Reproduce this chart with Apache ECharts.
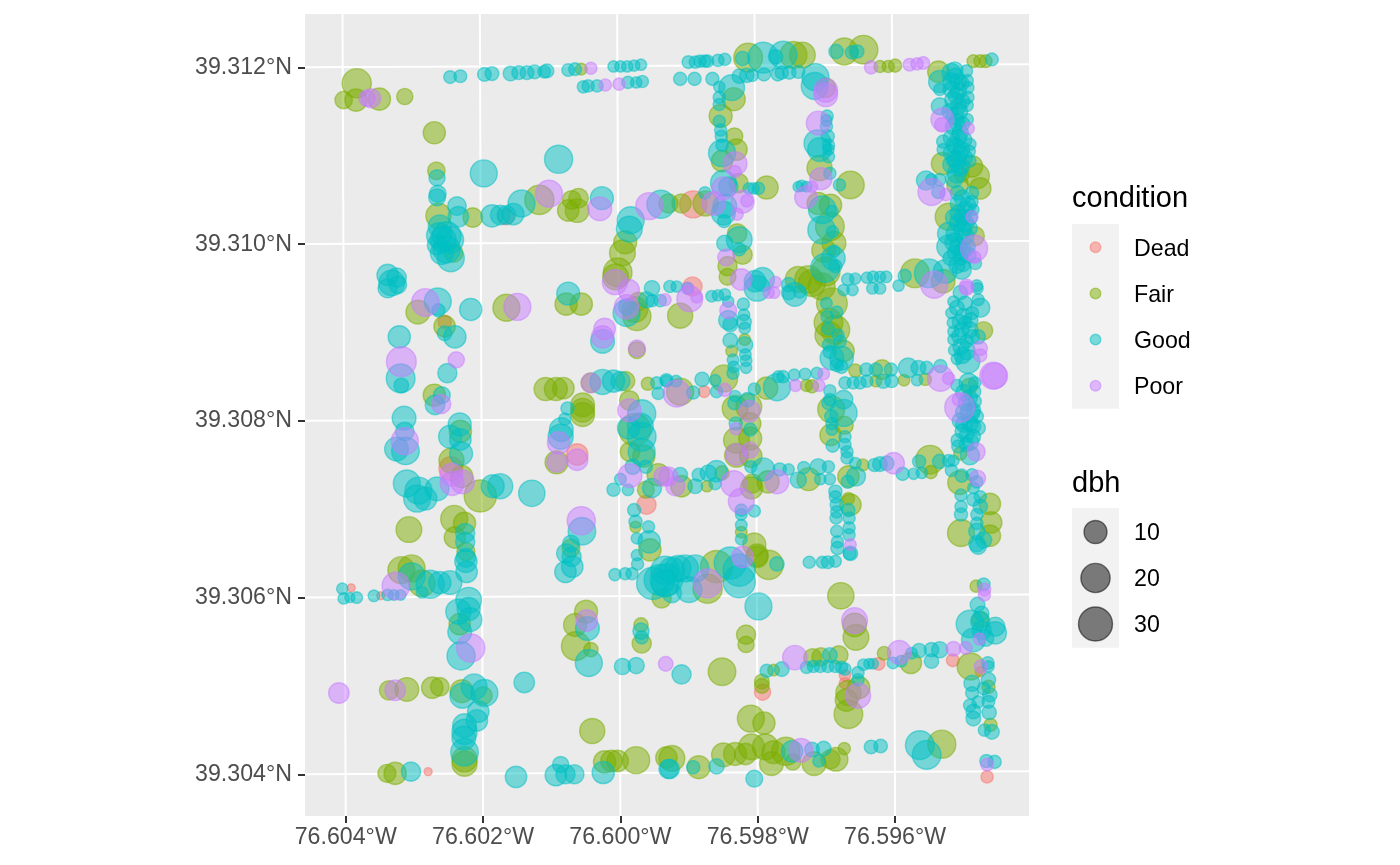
<!DOCTYPE html>
<html><head><meta charset="utf-8">
<style>html,body{margin:0;padding:0;background:#fff}#c{width:1400px;height:865px}</style>
<script src="https://cdn.jsdelivr.net/npm/echarts@6/dist/echarts.min.js"></script>
</head><body><div id="c"></div>
<script>
// Each tree: [thousandths of a degree east of 76.600W, thousandths of a degree north of 39.300N, dbh]
const conditions = ['Dead','Fair','Good','Poor'];
const sizeBreaks = [10,20,30];
const lonTicks = [-76.604,-76.602,-76.600,-76.598,-76.596];
const latTicks = [39.304,39.306,39.308,39.310,39.312];
const dead = [[-1.67,10.31,3],[-2.56,9.12,1.2],[-2.47,7.46,11],[-.63,7.62,8],[.38,7.05,5.6],[-3.92,6.11,0],[-3.49,6.02,0],[-2.80,4.03,0],[2.07,4.93,3],[3.27,5.12,.5],[3.27,5.03,.5],[3.76,5.25,1],[4.84,5.29,1],[5.24,5.16,.2],[5.34,3.97,.8],[1.06,10.45,16],[1.05,9.52,5.6],[1.22,8.33,.6]];
const fair = [[-3.84,11.82,20],[-4.03,11.63,4],[-3.85,11.63,9],[-3.51,11.64,9],[-3.14,11.67,3],[-2.71,11.26,9],[-2.68,10.83,4],[-2.65,10.32,13],[-2.15,10.30,6],[-1.18,10.50,20],[-.76,10.38,8],[-.63,10.38,11],[-.61,10.52,6],[-.71,10.50,5],[-.57,11.98,.6],[-2.43,9.90,5],[.07,10.02,10],[.03,9.90,14],[-.04,9.68,19],[-.07,9.63,14],
[-2.95,9.23,11],[-1.66,9.28,16],[-.79,9.32,9],[-.57,9.32,9],[.24,9.18,18],[.21,9.26,14],[.26,9.35,5],[-2.56,9.07,8],[-2.71,8.29,9],[-2.33,7.88,9],[-2.46,7.55,13],[-2.31,7.37,9],[-2.04,7.15,26],[-2.42,6.89,16],[-2.27,6.84,9],[-2.41,6.68,8],[-3.08,6.77,14],[-2.25,6.52,4.5],
[-1.09,8.36,10],[-.94,8.36,10],[-.83,8.37,8],[-.43,8.43,6],[.07,8.45,5.6],[.40,8.42,1.2],[.13,8.23,6],[-.55,8.18,11],[-.55,8.12,11],[-.55,8.07,11],[-.93,7.53,10],[.21,7.90,26],[.14,7.65,6],[.34,7.60,9],[.37,7.22,3.5],[.22,6.80,.5],[.43,6.54,9],[.55,7.39,9],[.24,8.80,3.5],[-.72,6.56,4.5],
[-3.19,6.31,16],[-3.04,6.33,16],[-2.89,6.16,15],[-2.34,5.70,8],[-.50,5.84,10],[-.66,5.69,10],[-.65,5.45,19],[-.43,5.41,1.8],[.30,5.69,1.8],[.31,5.48,5.6],[-3.37,4.95,5.6],[-3.11,4.96,11],[-2.74,4.98,8],[-2.63,4.99,5],[-2.31,4.94,10],[-2.00,4.89,4.5],[-2.27,4.17,13],[-2.27,4.12,13],[-3.40,4.01,4.5],[-3.28,4.01,9],[-.41,4.49,13],[-.23,4.14,9],[-.13,4.15,8],[-.04,4.15,8],[.23,4.16,16],[.67,4.19,8],[.60,5.99,5.6],[1.27,6.10,20],[1.40,6.35,26],[1.99,6.48,9],[2.16,6.37,20],[3.21,6.02,15],[3.41,5.69,11],[3.43,5.55,14],[1.83,5.58,5.6],[1.83,5.47,3],[1.48,5.16,17],
[.75,4.18,14],[1.14,4.08,10],[1.50,4.22,11],[1.67,4.23,10],[1.82,4.23,8],[1.91,4.31,14],[2.11,4.31,14],[2.20,4.12,11],[2.23,4.25,10],[2.41,4.26,18],[2.51,4.14,3],[2.82,4.12,11],[3.06,4.17,5.6],[3.14,4.17,11],[3.26,4.29,.8],[4.68,4.34,18],[1.90,4.63,16],[2.09,4.58,9],[2.06,5.05,2],[2.06,5.00,2],[2.23,5.18,.6],[2.80,5.32,4.5],[2.92,5.33,4.5],[3.18,5.35,5],[3.84,5.37,1.4],[4.23,5.26,8],[5.10,5.22,16],[5.24,5.75,3.5],[5.18,6.13,.8],[5.36,4.99,1.2],[5.39,4.56,1.2],[3.32,4.92,13],[3.47,4.98,9],[3.29,4.84,9],[3.32,4.68,19],
[1.86,12.11,19],[2.52,12.14,16],[2.65,12.14,14],[3.26,12.18,16],[3.54,12.20,19],[3.78,12.01,.8],[3.90,12.01,.8],[4.00,12.02,1.2],[5.14,12.07,1],[5.24,12.07,1],[5.32,12.07,1],[2.99,11.77,6],[1.65,11.64,10],[1.46,11.45,10],[1.66,11.22,3.5],[1.69,11.07,8],[1.48,10.94,8],[1.72,10.69,5.6],[2.13,10.64,10],[1.70,10.12,6],[1.78,9.88,5.6],[1.56,9.75,5.6],[1.56,9.63,3.5],[.70,10.46,5.6],[.89,10.46,5.6],[1.24,10.46,13],
[2.90,10.86,13],[3.35,10.67,17],[3.06,10.44,9],[2.88,10.46,9],[3.05,10.20,19],[3.11,10.01,11],[2.96,9.93,11],[2.99,9.69,19],[4.63,11.95,8],[4.69,10.91,9],[5.12,10.88,8],[5.19,10.77,13],[5.24,10.63,8],[4.91,10.67,8],[4.97,10.78,1.8],[4.78,10.31,16],[5.16,10.09,5.6],[4.29,9.67,19],[4.70,9.58,11],[2.59,9.60,14],[2.74,9.60,17],[2.93,9.52,16],
[.87,9.19,13],[1.81,8.92,.6],[1.62,8.79,.6],[1.51,8.48,16],[.87,8.33,16],[2.79,9.56,16],[3.08,9.33,23],[3.03,9.11,19],[3.13,9.03,19],[3.03,8.97,16],[3.25,8.79,8],[3.42,8.57,1.2],[3.81,8.58,6],[3.72,8.45,.6],[4.13,8.46,.6],[4.44,8.47,.8],[2.13,8.37,9],[2.71,8.40,.8],[2.79,8.39,1.2],[5.29,9.02,4.5],[5.08,8.39,3],[4.95,7.63,1.2],[4.51,7.56,19],[4.52,7.42,1.2],[4.94,7.30,11],[5.38,7.06,8],[5.40,6.85,8],[5.38,6.70,8],[4.96,6.73,16],
[3.07,8.13,16],[3.26,7.95,4.5],[3.06,7.84,8],[3.53,7.50,.8],[3.32,7.37,8],[3.32,7.12,.8],[3.35,7.05,8],[1.67,8.14,14],[1.87,8.16,14],[1.89,7.97,8],[1.69,7.78,14],[1.89,7.80,10],[1.69,7.61,11],[1.90,7.60,9],[2.74,7.34,10],[2.15,7.31,9],[1.92,7.29,5.6],[1.91,7.24,9],[1.76,6.74,.6],[1.95,6.60,10],[1.99,6.46,8],[.89,7.26,8],[1.48,7.41,1.8],[1.26,7.26,.5]];
const good = [[-2.48,11.89,1],[-2.33,11.90,1],[-1.98,11.92,1.5],[-1.87,11.93,1.5],[-1.60,11.93,2],[-1.48,11.94,1.5],[-1.36,11.94,1.5],[-1.25,11.95,1.5],[-1.11,11.95,1],[-1.07,11.96,1.5],[-.76,11.97,1],[-.66,11.98,1],[-.10,12.01,.5],[0,12.01,.5],[.10,12.01,.5],[.20,12.02,.5],[.30,12.03,.5],[-.54,11.78,.8],[-.47,11.79,.8],[-.34,11.79,.8],[.11,11.83,.8],[.23,11.83,.5],[.32,11.84,.8],
[-2.67,10.75,3],[-2.66,10.57,3.5],[-2.67,10.53,3.5],[-2.38,10.43,5],[-2.36,10.31,7],[-1.99,10.80,16],[-.90,10.96,18],[-.27,10.52,10],[-1.87,10.32,9],[-1.75,10.33,6],[-1.66,10.33,5],[-1.56,10.34,8],[-1.44,10.46,16],[.59,10.45,18],[-2.63,10.20,10],[-2.64,10.10,13],[-2.58,10.05,14],[-2.53,10.09,19],[-2.48,10.05,16],[-2.60,9.90,10],[-2.53,9.94,16],[-2.47,9.84,16],[-2.67,9.99,6],[.15,10.27,16],[.13,10.17,14],[-3.39,9.65,8],[-3.26,9.62,6],[-3.39,9.50,5.6],[-3.33,9.56,14],[-3.24,9.54,4],
[-2.66,9.35,16],[-2.65,9.25,1.2],[-2.18,9.26,9],[-.76,9.44,10],[.09,9.22,16],[.38,9.37,3],[.46,9.36,.8],[.58,9.36,.8],[.46,9.50,2.4],[-2.56,8.99,2],[-2.41,8.95,9],[-3.22,8.95,9],[-2.52,8.54,5.6],[-3.20,8.48,19],[-3.19,8.40,2],[-2.60,8.29,3.5],[-2.70,8.18,6],[-3.15,8.03,11],[-3.14,7.88,5],[-3.26,7.68,11],[-3.13,7.66,17],[-2.34,7.96,10],[-2.48,7.82,10],[-2.33,7.79,8],[-2.32,7.63,10],[-3.11,7.29,16],[-2.94,7.21,16],[-2.96,7.12,16],[-2.84,7.12,10],[-2.67,7.23,11],[-1.86,7.26,10],[-1.75,7.26,13],[-1.29,7.18,15],[-2.26,6.73,5.6],[-2.26,6.63,5.6],[-2.25,6.45,5.6],
[-.26,8.44,13],[-.10,8.45,9],[0,8.45,5.6],[.53,8.43,.8],[.67,8.46,1.2],[.55,8.31,.8],[.31,8.08,18],[-.77,8.14,1.2],[-.81,8.02,.8],[-.86,7.90,11],[-.87,7.82,13],[.12,7.92,9],[.29,7.94,14],[.31,7.82,19],[.31,7.65,16],[.18,7.48,2.4],[.37,7.48,1.2],[0,7.34,.6],[-.10,7.22,1.2],[.11,7.22,.6],[.20,6.99,1.2],[.22,6.86,1.2],[.41,6.80,.8],[.24,6.67,.5],[.42,6.63,9],[.46,7.24,5.6],[.24,6.48,.5],[-.26,8.90,11],[.09,9.29,3],[-.72,6.61,3.5],[-.79,6.50,5.6],[-.71,6.46,5.6],[-.56,6.75,17],
[-4.05,6.10,.5],[-4.03,5.99,.5],[-3.94,6.00,.2],[-3.84,6.00,.6],[-3.59,6.02,.6],[-3.39,6.03,.5],[-3.30,6.03,.3],[-3.20,6.03,.3],[-3.04,6.24,16],[-2.77,6.15,18],[-2.63,6.17,9],[-2.48,6.17,11],[-2.89,6.06,.6],[-2.25,6.41,9],[-2.24,6.29,8],[-2.21,5.97,14],[-2.21,5.87,10],[-2.36,5.84,13],[-2.19,5.75,11],[-2.34,5.61,11],[-2.32,5.34,18],[-.48,5.65,11],[-.46,5.26,16],[.30,5.62,3],[.31,5.55,1.2],[.03,5.22,3],[.23,5.23,3],[-.80,6.29,8],[-.70,6.35,8],[-.08,6.26,.8],[.07,6.27,.8],[.17,6.27,.8],[.25,6.38,.8],
[.47,6.16,26],[.57,6.20,23],[.67,6.20,26],[.65,6.31,18],[.75,6.31,14],[.84,6.33,14],[.94,6.33,16],[1.09,6.33,16],[.65,6.16,16],[.75,6.05,5.6],[1.00,6.09,14],[1.60,6.39,26],[1.73,6.31,26],[1.73,6.18,26],[2.28,6.38,1.8],[2.01,5.90,16],[2.75,6.40,.8],[2.94,6.40,.7],[3.02,6.40,1],[3.13,6.41,.7],[3.34,6.50,1],[.89,5.13,5.6],
[-1.40,5.04,7],[-2.13,4.99,14],[-2.30,4.89,13],[-1.98,4.92,16],[-2.07,4.71,8],[-2.09,4.61,8],[-2.27,4.55,11],[-2.27,4.48,13],[-2.28,4.41,11],[-2.27,4.25,17],[-3.05,4.03,5.6],[-1.52,3.97,8],[-.87,4.11,3],[-.94,3.99,8],[-.80,4.00,5.6],[-.67,4.00,5.6],[-.25,4.02,9],[.72,4.06,5.6],[.70,4.06,5.6],[1.06,4.08,1.2],[1.40,4.09,2.4],[1.95,3.95,3.5],[2.50,4.26,8],[2.79,4.28,2],[2.96,4.29,2],[2.89,4.15,.8],[3.65,4.31,1.4],[3.79,4.32,1.4],[4.36,4.33,19],[4.46,4.22,19],[5.33,4.15,1.2],[5.45,4.14,1.2],
[2.13,5.17,1.2],[2.35,5.19,2],[3.05,5.35,2],[2.71,5.21,.8],[2.81,5.22,.8],[2.91,5.22,.8],[3.02,5.22,.8],[3.13,5.22,.8],[3.22,5.21,.8],[3.27,5.19,.8],[3.46,5.15,.8],[3.46,5.07,.8],[3.54,5.24,.6],[3.62,5.25,.3],[3.68,5.25,.3],[3.97,5.26,.6],[4.09,5.28,.6],[4.24,5.37,.6],[4.35,5.40,1.8],[4.53,5.41,1.8],[4.65,5.41,3],[4.53,5.28,1.8],[5.09,5.70,17],[5.20,5.92,2],[5.26,5.82,2],[5.24,5.73,5.6],[5.46,5.67,5.6],[5.46,5.60,9],[5.14,5.52,11],[5.32,5.54,3],[5.26,5.63,5.6],[5.29,6.15,1],[5.35,5.26,1],[5.36,5.22,.5],[5.36,5.07,1.8],[5.12,5.03,3],[5.29,4.97,1],[5.38,4.90,1.8],[5.12,4.92,1],[5.09,4.78,1],[5.21,4.82,.8],[5.36,4.82,1],[5.14,4.71,2],[5.37,4.70,1.8],[5.14,4.63,2],[5.30,4.50,.8],[5.41,4.48,2],
[.99,12.06,1],[1.09,12.06,.8],[1.16,12.07,.8],[1.23,12.07,.8],[1.27,12.07,.8],[1.42,12.08,.8],[1.52,12.09,.8],[.87,11.87,1.2],[1.08,11.87,1.2],[1.34,11.87,1.2],[1.78,12.10,1.8],[2.08,12.11,23],[2.37,12.14,17],[2.26,12.12,1.8],[3.14,12.18,1.8],[3.37,12.17,1.2],[3.45,12.18,1.2],[5.41,12.09,1],[1.73,11.90,1.8],[1.84,11.91,1.8],[1.92,11.91,.8],[2.09,11.92,1.2],[2.29,11.92,1.2],[2.35,11.94,1.2],[2.46,11.94,1.2],[2.59,11.95,1.2],[2.84,11.89,16],[2.83,11.79,16],
[1.62,11.77,14],[1.44,11.78,.5],[1.44,11.66,.8],[1.44,11.58,.8],[1.44,11.39,.8],[1.46,11.29,.8],[1.47,11.22,.8],[1.48,11.03,16],[1.48,11.12,.8],[1.50,10.69,14],[1.57,10.65,5.6],[1.87,10.63,.5],[1.94,10.63,.5],[2.01,10.63,.8],[1.52,10.43,11],[1.50,10.35,11],[1.51,10.26,1.2],[1.73,10.05,14],[1.52,10.01,3],[1.73,9.94,1.2],[1.96,9.58,8],[2.07,9.60,11],[1.23,10.58,.8],
[3.01,11.45,.8],[3.00,11.40,.5],[3.00,11.33,.8],[3.02,11.22,1.2],[3.03,11.12,.8],[3.03,11.07,.5],[3.03,10.99,.8],[2.87,11.14,16],[2.90,11.07,11],[3.05,10.80,.8],[3.19,10.67,.8],[2.64,10.66,.5],[2.59,10.65,.3],[2.71,10.65,.3],[2.94,10.39,17],[3.08,10.37,.8],[2.93,10.16,17],[3.09,10.14,.8],[3.11,9.92,.8],[3.10,9.84,11],[2.98,9.73,19],[3.13,9.75,1.2],
[4.65,11.84,9],[4.65,11.75,.8],[4.65,11.56,3.5],[5.04,11.96,.8],[5.05,11.85,.8],[5.06,11.77,.8],[5.06,11.66,.8],[5.05,11.57,.8],[5.05,11.41,.8],[5.09,11.13,.8],[5.08,11.05,.8],[5.09,10.94,.8],[4.82,11.94,5],[4.87,11.97,3],[4.82,11.84,4],[4.92,11.84,3],[4.82,11.75,3],[4.92,11.73,3],[4.85,11.63,4],[4.92,11.56,3],[4.80,11.50,3],[4.87,11.45,4],[4.85,11.33,3],[4.95,11.26,3],[4.82,11.20,3],[4.70,11.16,1.2],[4.70,11.07,.8],[4.90,11.10,3],[4.82,11.03,3],[4.97,11.07,3],[4.90,10.95,4],[4.82,10.90,4],[4.97,10.88,3],[4.90,10.80,5.6],[4.45,10.72,5.6],[4.53,10.73,.6],[4.65,10.73,.8],[4.63,10.59,1.2],
[4.91,10.58,1.8],[5.12,10.58,1.2],[5.12,10.48,.8],[4.92,10.46,3],[5.02,10.39,3],[5.14,10.39,.5],[4.92,10.35,3],[5.02,10.24,4],[4.92,10.24,4],[4.78,10.12,9],[4.87,10.12,4],[5.02,10.09,4],[4.78,9.97,11],[4.92,9.97,4],[5.04,9.97,4],[4.80,9.84,1.8],[4.95,9.84,1.8],[4.99,9.77,1.8],[5.17,9.78,.8],[4.97,9.71,5.6],[4.49,9.67,19],[4.73,9.69,11],[4.14,9.64,1.2],[4.05,9.53,.5],[5.19,9.53,.6],[3.31,9.60,.8],[3.42,9.61,.5],[3.59,9.62,.5],[3.68,9.63,.6],[3.78,9.63,.5],[3.87,9.63,.6],[3.67,9.50,.6],[3.78,9.50,.6],[2.45,9.54,1.8],[.72,9.52,.8],[.82,9.52,.5],
[.98,9.50,.6],[1.33,9.41,.6],[1.42,9.42,.5],[1.52,9.43,.6],[1.57,9.35,.5],[1.57,9.14,5.6],[1.60,9.09,2],[1.60,8.91,2],[1.79,9.32,.8],[1.80,9.20,.6],[1.80,9.12,2],[1.81,9.05,.6],[1.81,8.86,3],[1.64,8.69,.6],[1.65,8.61,.6],[1.64,8.54,.8],[1.82,8.75,.6],[1.83,8.68,.6],[1.83,8.60,.5],[1.38,8.46,.5],[1.40,8.33,.8],[1.19,8.47,1.8],[1.06,8.32,1.2],[.81,8.45,.6],[.67,8.45,.6],[1.99,9.50,14],[2.45,9.45,1.8],[2.54,9.43,11],[2.61,9.46,.8],[3.00,9.33,.6],[3.01,9.18,.8],[3.15,9.23,.8],[3.03,9.04,.8],[3.17,8.97,.8],[3.03,8.86,.8],[3.20,8.90,.8],[3.08,8.71,11],[3.22,8.71,11],[3.05,8.78,1.2],[3.15,8.63,1.2],[3.22,8.61,1.2],[3.25,9.48,.5],[3.38,9.48,.5],
[3.58,8.58,1.2],[3.72,8.58,1.2],[3.94,8.58,1.2],[4.19,8.60,6],[4.34,8.60,2],[4.46,8.60,1.2],[4.66,8.62,1.2],[3.27,8.43,.8],[3.39,8.43,.8],[3.49,8.43,.8],[3.59,8.45,.8],[3.83,8.45,1.8],[3.95,8.45,1.2],[4.32,8.46,.5],[2.28,8.38,16],[1.95,8.36,.8],[2.30,8.50,.6],[2.37,8.50,.8],[2.53,8.52,.6],[2.69,8.53,.6],[2.86,8.54,.6],
[4.85,9.35,.5],[4.82,9.22,.5],[4.84,9.11,.5],[4.85,9.01,.5],[4.85,8.92,.5],[4.86,8.80,.5],[4.90,8.70,.5],[4.95,9.45,1.8],[5.20,9.50,.5],[5.21,9.37,.8],[5.24,9.28,5.6],[5.02,9.33,1.8],[5.00,9.18,3],[5.12,9.22,1.2],[4.97,9.03,2],[5.09,9.03,3],[5.04,8.90,1.2],[5.02,9.11,1.2],[5.21,8.95,1.8],[5.04,8.79,4],[5.06,8.67,11],[5.07,8.43,5.6],[5.16,8.43,.8],[4.90,8.40,.8],[5.16,8.33,.8],[5.04,8.20,3],[5.16,8.22,1.2],[4.95,8.00,3],[5.09,8.09,5.6],[5.19,8.05,1.2],[5.09,7.97,3],[5.21,7.92,1.8],[5.04,7.84,1.8],[5.14,7.82,1.8],[4.91,7.78,1.2],[4.92,7.71,1.2],[5.04,7.73,1.8],[5.09,7.61,5.6],
[3.70,7.50,1.2],[3.78,7.51,2],[3.88,7.52,1.8],[4.11,7.40,1.2],[4.27,7.40,.5],[4.39,7.41,.5],[4.35,7.54,1.2],[4.65,7.54,1.8],[4.78,7.55,.8],[4.85,7.55,.5],[4.82,7.44,.8],[4.97,7.38,1.2],[5.12,7.39,.8],[5.19,7.31,.8],[5.14,7.24,.6],[4.96,7.16,.8],[4.96,7.03,.8],[4.96,6.94,1.2],[5.24,7.14,.8],[5.14,7.11,1.2],[5.24,7.03,1.8],[5.19,6.94,.8],[5.19,6.84,.8],[5.19,6.75,3],[5.29,6.65,3],[5.19,6.61,3],[5.21,6.58,3],
[3.05,8.34,.8],[3.05,8.24,.8],[3.03,8.20,1.2],[3.25,8.24,5],[3.25,8.09,16],[3.07,8.05,1.2],[3.08,7.97,.8],[3.08,7.90,.5],[3.09,7.72,1.2],[3.27,7.82,.8],[3.27,7.73,.8],[3.30,7.65,.8],[3.30,7.58,.8],[3.42,7.52,.6],[3.43,7.37,5.6],[3.31,7.31,1.2],[3.13,7.20,1.2],[3.13,7.14,.8],[3.15,7.05,1.2],[3.15,6.97,.8],[3.14,6.90,.8],[3.32,6.99,1.2],[3.33,6.90,.8],[3.33,6.79,.8],[3.33,6.71,.8],[3.15,6.75,.8],[3.16,6.63,.8],[3.16,6.56,1.2],[3.35,6.50,1.8],
[1.66,8.20,1.2],[1.67,8.28,.5],[1.85,8.24,1.8],[1.68,7.97,1.2],[1.89,7.90,1.2],[1.90,7.48,.8],[2.08,7.45,10],[2.32,7.45,1.2],[2.45,7.45,.5],[2.67,7.47,.8],[2.88,7.48,3],[3.03,7.48,.8],[2.59,7.33,3],[2.91,7.34,.5],[3.05,7.34,.5],[1.95,6.98,.8],[1.76,6.99,.8],[1.76,6.94,.6],[1.76,6.82,.6],[1.76,6.66,.6],[.87,7.39,2],[1.09,7.26,2],[1.14,7.39,1.2],[1.28,7.41,3],[1.40,7.43,8],[1.38,7.29,.8],
[4.88,11.90,3],[4.97,11.82,2],[4.89,11.68,3],[4.98,11.62,2],[4.94,11.50,3],[4.90,11.38,3],[4.98,11.36,2],[4.92,11.20,3],[5.00,11.18,3],[4.86,11.12,3],[4.94,11.02,3],[5.02,10.98,2],[4.86,10.96,3],[4.94,10.86,3],[4.86,10.74,4],
[4.98,10.52,3],[5.06,10.44,3],[4.98,10.30,3],[5.08,10.30,3],[4.86,10.30,4],[4.98,10.16,4],[5.08,10.18,3],[4.86,10.02,5],[4.98,9.92,4],[4.88,9.90,3],[4.90,9.76,3],[5.06,9.88,3],
[4.90,9.28,2],[4.94,9.12,2],[4.93,8.96,2],[4.96,8.84,3],[5.10,9.14,2],[5.12,8.95,2],[4.98,8.74,3],[5.00,8.32,3],[5.08,8.26,3],[5.00,8.10,3],[5.14,8.12,2],[5.00,7.96,3],[5.14,7.94,2],[4.98,7.88,2],[5.10,7.76,3]];
const poor = [[-3.63,11.65,5.6],[-3.69,11.65,3],[-.43,11.99,.8],[-.22,11.80,.8],[-.02,11.81,.8],[-1.04,10.57,16],[-.30,10.40,11],[.42,10.43,16],[-.08,9.57,13],[.12,9.48,8],[-2.84,9.34,17],[-1.50,9.29,16],[.09,9.29,12],[.65,9.37,.8],[-3.19,8.67,21],[-2.39,8.69,3],[-2.61,8.19,5.6],[-3.14,7.77,16],[-2.46,7.39,10],[-2.45,7.29,11],[-2.30,7.31,11],[-.43,8.43,6],[.13,8.12,10],[-.90,7.75,9],[-.93,7.53,6],[-.63,7.56,8],[.14,7.38,11],[.63,7.37,6],[-.23,9.04,8],[-.26,8.95,9],[.24,8.82,3.5],[-.57,6.87,18],
[-3.27,6.13,17],[-.49,5.74,8],[-2.18,5.43,18],[.66,5.25,2],[1.27,6.16,19],[1.78,6.46,8],[3.41,5.74,14],[-4.10,4.92,7],[-3.28,4.95,7],[2.63,4.27,11],[5.34,4.11,1],[2.54,5.32,12],[4.06,5.38,11],[4.85,5.42,2],[5.03,5.43,1],[5.23,5.53,.8],[5.30,6.09,1],[5.30,6.03,.8],[5.25,5.22,1.2],[3.46,4.89,13],
[4.21,12.03,1],[4.32,12.04,.8],[4.41,12.05,1],[3.65,12.00,1.2],[2.99,11.74,11],[2.99,11.69,11],[4.69,11.41,10],[4.68,11.35,1.8],[5.07,11.31,.6],[1.67,10.91,11],[1.67,10.82,.8],[1.50,10.63,10],[1.78,10.48,10],[1.84,10.49,.8],[1.70,10.34,.8],[1.54,9.85,3.5],[1.76,9.60,8],[2.26,9.57,.5],[1.36,10.46,11],[2.88,11.37,11],[2.92,10.74,9],[2.79,10.65,.5],[2.70,10.53,9],[5.12,10.31,.8],[5.15,9.95,16],[5.16,9.85,.8],[4.53,10.59,16],[4.74,10.56,.8],[4.57,9.54,16],[5.04,9.52,2],[.98,9.50,.8],
[1.01,9.38,14],[1.11,9.40,.6],[1.57,9.25,3.5],[1.52,8.35,1.2],[.82,8.31,16],[2.16,9.45,.5],[2.24,9.45,.5],[4.66,8.48,14],[4.78,8.48,.8],[2.96,8.53,.6],[2.55,8.40,.8],[2.89,8.40,.8],[5.04,9.50,1.8],[5.24,8.82,1.8],[5.24,8.74,1.2],[5.43,8.51,16],[5.45,8.51,14],[4.94,8.15,21],[4.92,8.24,.8],[5.18,7.65,4.5],[3.98,7.52,8],[5.20,7.35,3],[3.35,6.60,.6],[1.88,8.11,8],[1.68,7.91,.8],[1.69,7.62,8],[1.89,7.67,3],[2.28,7.31,11],[1.65,7.29,14],[1.76,7.09,14],[.70,7.37,5.6],[.80,7.26,5.6]];
const seriesData = [dead,fair,good,poor];
const colors = ['248,118,109','124,174,0','0,191,196','199,124,255'];

const lon = m => -76.6 + m/1000;
const lat = l => 39.3 + l/1000;
const sizeOf = dbh => 8 + 4.75*Math.sqrt(dbh);
const xMin=-76.604593, xMax=-76.59405, yMin=39.303528, yMax=39.312604;
const font='"Liberation Sans",Arial,sans-serif';

const gridSeries=[];
lonTicks.forEach(v=>gridSeries.push({type:'line',silent:true,symbol:'none',z:1,animation:false,
  lineStyle:{color:'#fff',width:2},data:[[v,yMin],[v-0.000047,yMax]]}));
latTicks.forEach(v=>gridSeries.push({type:'line',silent:true,symbol:'none',z:1,animation:false,
  lineStyle:{color:'#fff',width:2},data:[[xMin,v],[xMax,v+0.000034]]}));

const pointSeries=conditions.map((name,i)=>({
  name,type:'scatter',z:2,animation:false,silent:true,
  data:seriesData[i].map(p=>[lon(p[0]),lat(p[1]),p[2]]),
  symbol:'circle',symbolSize:d=>sizeOf(d[2]),
  itemStyle:{color:`rgba(${colors[i]},0.5)`,borderColor:`rgba(${colors[i]},0.5)`,borderWidth:1.4,opacity:1}
}));

const g=[];
const txt=(x,y,s,size)=>g.push({type:'text',x,y,style:{text:s,font:`${size}px ${font}`,fill:'#000',textVerticalAlign:'middle',verticalAlign:'middle'}});
const rect=(x,y,w,h)=>g.push({type:'rect',shape:{x,y,width:w,height:h},style:{fill:'#F2F2F2'}});
txt(1072,199,'condition',29);
rect(1072,224,47,184.8);
[247.3,293.4,339.6,385.7].forEach((y,i)=>{
  g.push({type:'circle',shape:{cx:1095.5,cy:y,r:5.3},style:{fill:`rgba(${colors[i]},0.5)`,stroke:`rgba(${colors[i]},0.5)`,lineWidth:1.4}});
  txt(1134,y+2,conditions[i],23.2);
});
txt(1072,483.5,'dbh',29);
rect(1072,508,47,139.7);
[532,578,624].forEach((y,i)=>{
  g.push({type:'circle',shape:{cx:1095.5,cy:y,r:sizeOf(sizeBreaks[i])/2},style:{fill:'rgba(0,0,0,0.5)',stroke:'rgba(0,0,0,0.5)',lineWidth:1.4}});
  txt(1134,y+2,String(sizeBreaks[i]),23.2);
});

const chart=echarts.init(document.getElementById('c'),null,{renderer:'canvas'});
chart.setOption({
  animation:false,backgroundColor:'#fff',
  grid:{left:305,top:14,width:724,height:802,show:true,backgroundColor:'#EBEBEB',borderWidth:0},
  xAxis:{type:'value',min:xMin,max:xMax,splitLine:{show:false},axisLine:{show:false},
    axisTick:{show:true,length:7,lineStyle:{color:'#333',width:2},customValues:lonTicks},
    axisLabel:{color:'#4D4D4D',fontFamily:font,fontSize:23.2,margin:10,customValues:lonTicks,formatter:v=>Math.abs(v).toFixed(3)+'°W'}},
  yAxis:{type:'value',min:yMin,max:yMax,splitLine:{show:false},axisLine:{show:false},
    axisTick:{show:true,length:7,lineStyle:{color:'#333',width:2},customValues:latTicks},
    axisLabel:{color:'#4D4D4D',fontFamily:font,fontSize:23.2,margin:13,padding:[3,0,0,0],customValues:latTicks,formatter:v=>v.toFixed(3)+'°N'}},
  series:[...gridSeries,...pointSeries],
  graphic:g
});
</script></body></html>
